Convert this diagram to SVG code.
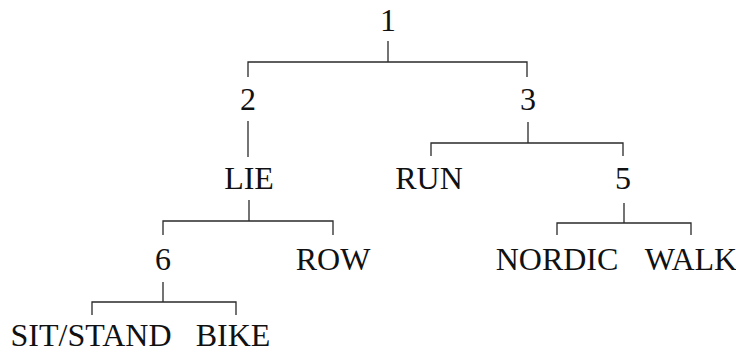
<svg xmlns="http://www.w3.org/2000/svg" width="736" height="354" viewBox="0 0 736 354">
  <style>
    .lbl { font-family: "Liberation Serif", "DejaVu Serif", serif; font-size: 32px; fill: #111; text-anchor: middle; }
    .edge { fill: none; stroke: #2a2a2a; stroke-width: 1.3; }
  </style>
  <rect width="736" height="354" fill="#fff"/>
  <g id="connectors">
    <path class="edge" d="M388 41V62M248 77V62H527V77"/>
    <path class="edge" d="M248 121V157"/>
    <path class="edge" d="M528 122V143M431 156V143H623V156"/>
    <path class="edge" d="M249 200V221M163 235V221H333V235"/>
    <path class="edge" d="M624 203V223M557 235V223H691V235"/>
    <path class="edge" d="M163 282V302M92 315V302H236V315"/>
  </g>
  <g id="n1"><text class="lbl" x="388" y="31">1</text></g>
  <g id="n2"><text class="lbl" x="248" y="110">2</text></g>
  <g id="n3"><text class="lbl" x="528" y="110">3</text></g>
  <g id="lie"><text class="lbl" x="249" y="189">LIE</text></g>
  <g id="run"><text class="lbl" x="429" y="189">RUN</text></g>
  <g id="n5"><text class="lbl" x="623" y="189">5</text></g>
  <g id="n6"><text class="lbl" x="163" y="270">6</text></g>
  <g id="row"><text class="lbl" x="333" y="270">ROW</text></g>
  <g id="nordic"><text class="lbl" x="557" y="270">NORDIC</text></g>
  <g id="walk"><text class="lbl" x="691" y="270">WALK</text></g>
  <g id="sitstand"><text class="lbl" x="91" y="346">SIT/STAND</text></g>
  <g id="bike"><text class="lbl" x="233" y="346">BIKE</text></g>
</svg>
